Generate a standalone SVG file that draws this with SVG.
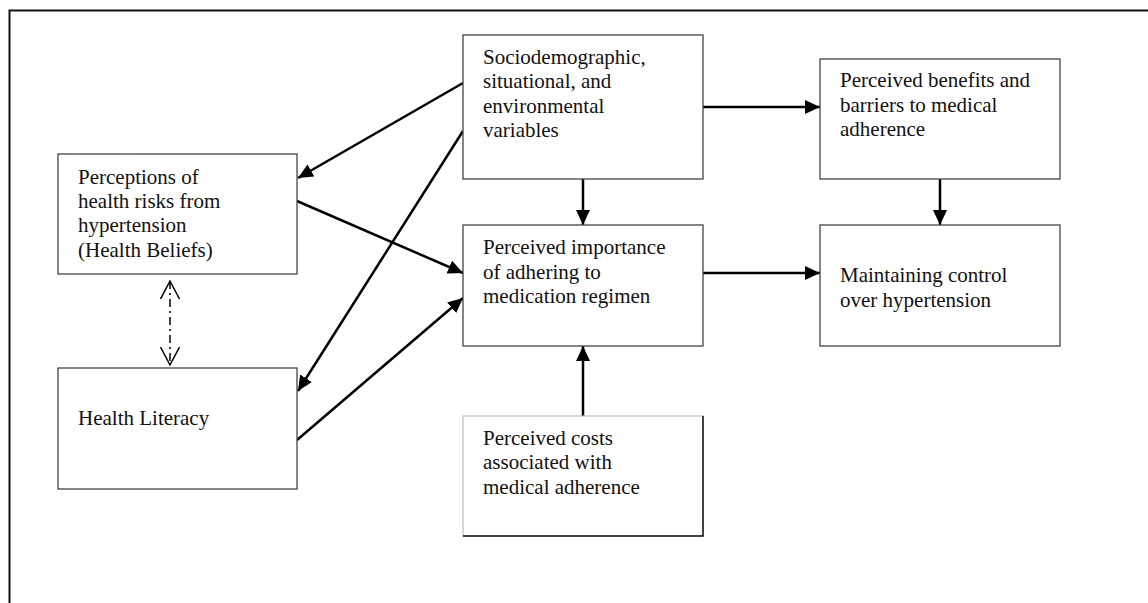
<svg xmlns="http://www.w3.org/2000/svg" width="1148" height="603" viewBox="0 0 1148 603">
<style>
  .box { fill: #ffffff; stroke: #444; stroke-width: 1.3; }
  .t { font-family: "Liberation Serif", "Times New Roman", serif; font-size: 21px; fill: #111; }
  .c { stroke: #000; stroke-width: 2.5; fill: none; marker-end: url(#ah); }
  .frame { stroke: #111; stroke-width: 2; fill: none; }
</style>
<defs>
  <marker id="ah" markerUnits="userSpaceOnUse" markerWidth="16" markerHeight="16" refX="15" refY="7" orient="auto">
    <path d="M0,0 L15,7 L0,14 z" fill="#000"/>
  </marker>
  <marker id="oh" markerUnits="userSpaceOnUse" markerWidth="20" markerHeight="22" refX="18" refY="10" orient="auto">
    <path d="M0,0.5 L18,10 L0,19.5" fill="none" stroke="#000" stroke-width="1.5"/>
  </marker>
  <marker id="ohs" markerUnits="userSpaceOnUse" markerWidth="20" markerHeight="22" refX="18" refY="10" orient="auto-start-reverse">
    <path d="M0,0.5 L18,10 L0,19.5" fill="none" stroke="#000" stroke-width="1.5"/>
  </marker>
</defs>

<g id="frame">
  <path class="frame" d="M9.5,603 L9.5,10.5 L1148,10.5"/>
</g>

<g id="connectors">
  <line class="c" x1="463" y1="83" x2="298" y2="178"/>
  <line class="c" x1="463" y1="131" x2="298" y2="391"/>
  <line class="c" x1="297" y1="201" x2="463" y2="273"/>
  <line class="c" x1="297" y1="440" x2="463" y2="298"/>
  <line class="c" x1="583" y1="179" x2="583" y2="225"/>
  <line class="c" x1="583" y1="416" x2="583" y2="346"/>
  <line class="c" x1="703" y1="107" x2="820" y2="107"/>
  <line class="c" x1="703" y1="273" x2="820" y2="273"/>
  <line class="c" x1="940" y1="179" x2="940" y2="225"/>
  <line x1="170" y1="281" x2="170" y2="365" stroke="#000" stroke-width="1.5" stroke-dasharray="8,4,2,4" marker-start="url(#ohs)" marker-end="url(#oh)"/>
</g>

<g id="node-socio">
  <rect class="box" x="463" y="35" width="240" height="144"/>
  <text class="t" x="483" y="64">Sociodemographic,</text>
  <text class="t" x="483" y="88">situational, and</text>
  <text class="t" x="483" y="113">environmental</text>
  <text class="t" x="483" y="137">variables</text>
</g>

<g id="node-perceptions">
  <rect class="box" x="58" y="154" width="239" height="120"/>
  <text class="t" x="78" y="184">Perceptions of</text>
  <text class="t" x="78" y="208">health risks from</text>
  <text class="t" x="78" y="232">hypertension</text>
  <text class="t" x="78" y="257">(Health Beliefs)</text>
</g>

<g id="node-literacy">
  <rect class="box" x="58" y="368" width="239" height="121"/>
  <text class="t" x="78" y="425">Health Literacy</text>
</g>

<g id="node-importance">
  <rect class="box" x="463" y="225" width="240" height="121"/>
  <text class="t" x="483" y="254">Perceived importance</text>
  <text class="t" x="483" y="279">of adhering to</text>
  <text class="t" x="483" y="303">medication regimen</text>
</g>

<g id="node-costs">
  <rect x="463" y="416" width="240" height="120" fill="#fff" stroke="#bbb" stroke-width="1.2"/>
  <path d="M703,416 L703,536 L463,536" fill="none" stroke="#111" stroke-width="1.5"/>
  <text class="t" x="483" y="445">Perceived costs</text>
  <text class="t" x="483" y="469">associated with</text>
  <text class="t" x="483" y="494">medical adherence</text>
</g>

<g id="node-benefits">
  <rect class="box" x="820" y="59" width="240" height="120"/>
  <text class="t" x="840" y="87">Perceived benefits and</text>
  <text class="t" x="840" y="112">barriers to medical</text>
  <text class="t" x="840" y="136">adherence</text>
</g>

<g id="node-maintaining">
  <rect class="box" x="820" y="225" width="240" height="121"/>
  <text class="t" x="840" y="282">Maintaining control</text>
  <text class="t" x="840" y="307">over hypertension</text>
</g>
</svg>
